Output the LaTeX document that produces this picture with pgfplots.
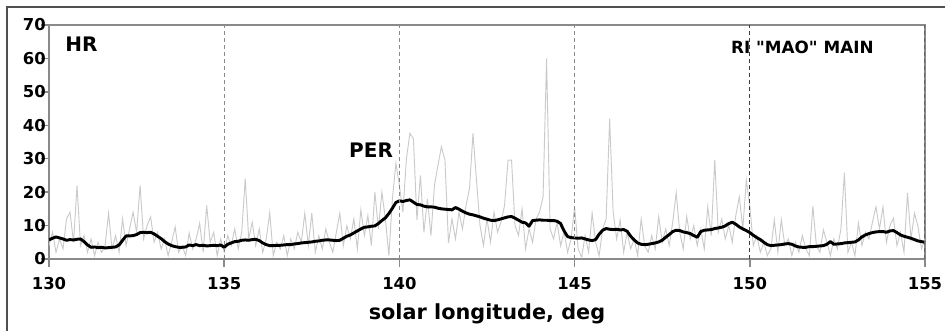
\documentclass[border=0pt]{standalone}
\usepackage{pgfplots}
\pgfplotsset{compat=1.18}
\usepackage{pgfplotstable}
\usepackage{fontspec}
\setmainfont{DejaVu Sans}
\newfontfamily\qfont{DejaVu Sans}
\definecolor{axisgray}{HTML}{8A8A8A}
\definecolor{noisegray}{HTML}{CACACA}
\definecolor{framegray}{HTML}{505050}

\pgfplotstableread{
x y
130.0 4
130.1 8
130.2 2
130.3 6
130.4 3
130.5 12
130.6 14
130.7 5
130.8 22
130.9 4
131.0 7
131.1 2
131.2 6
131.3 1
131.4 5
131.5 2
131.6 4
131.7 13.7
131.8 3
131.9 7
132.0 2
132.1 12
132.2 4
132.3 9
132.4 14
132.5 8
132.6 22
132.7 6
132.8 10
132.9 12.6
133.0 5
133.1 8
133.2 3
133.3 6
133.4 1
133.5 5
133.6 9.6
133.7 2
133.8 4
133.9 1
134.0 7.8
134.1 3
134.2 6
134.3 10.7
134.4 2
134.5 16
134.6 5
134.7 8
134.8 1
134.9 6
135.0 2
135.1 7
135.2 4
135.3 9
135.4 3
135.5 8
135.6 24
135.7 6
135.8 11
135.9 4
136.0 9
136.1 2
136.2 6
136.3 13.9
136.4 1
136.5 5
136.6 3
136.7 7
136.8 1
136.9 6
137.0 3
137.1 8
137.2 5
137.3 13.7
137.4 4
137.5 13.7
137.6 2
137.7 7
137.8 3
137.9 9
138.0 5
138.1 2
138.2 8
138.3 13.7
138.4 4
138.5 10
138.6 6
138.7 12
138.8 3
138.9 14.7
139.0 7
139.1 13
139.2 4
139.3 20
139.4 9
139.5 20
139.6 12
139.7 1
139.8 18
139.9 28.6
140.0 22
140.1 14
140.2 30
140.3 37.6
140.4 36
140.5 11.7
140.6 25
140.7 8
140.8 18
140.9 7
141.0 22
141.1 28
141.2 33.6
141.3 29.6
141.4 4.8
141.5 12
141.6 6
141.7 14
141.8 9
141.9 16
142.0 21
142.1 37.6
142.2 23.6
142.3 10
142.4 4
142.5 12
142.6 5
142.7 14
142.8 8
142.9 11
143.0 16
143.1 29.6
143.2 29.6
143.3 10
143.4 7
143.5 15
143.6 3
143.7 9
143.8 5
143.9 12
144.0 14
144.1 18.6
144.2 60
144.3 9
144.4 6
144.5 11
144.6 4
144.7 8
144.8 2
144.9 6
145.0 15.6
145.1 3
145.2 0.5
145.3 7
145.4 2
145.5 13.7
145.6 5
145.7 1
145.8 9
145.9 12
146.0 42
146.1 14
146.2 6
146.3 11.7
146.4 2
146.5 8
146.6 3
146.7 6
146.8 1
146.9 12
147.0 4
147.1 2
147.2 7
147.3 3
147.4 12.7
147.5 5
147.6 9
147.7 4
147.8 11
147.9 19.8
148.0 8
148.1 3
148.2 12.7
148.3 6
148.4 10
148.5 4
148.6 9
148.7 3
148.8 15.6
148.9 7
149.0 29.6
149.1 8
149.2 12
149.3 6
149.4 10
149.5 5
149.6 13
149.7 18.6
149.8 9
149.9 23.6
150.0 16
150.1 4
150.2 7
150.3 2
150.4 5
150.5 1
150.6 3
150.7 11.7
150.8 2
150.9 11.7
151.0 4
151.1 6
151.2 1
151.3 5
151.4 2
151.5 7
151.6 3
151.7 1
151.8 15.8
151.9 4
152.0 2
152.1 8.7
152.2 5
152.3 1
152.4 6
152.5 3
152.6 9
152.7 25.8
152.8 2
152.9 5
153.0 1
153.1 10.7
153.2 4
153.3 8
153.4 6
153.5 11
153.6 15.6
153.7 9
153.8 15.6
153.9 5
154.0 10
154.1 12.2
154.2 4
154.3 8
154.4 2
154.5 19.8
154.6 6
154.7 13.7
154.8 9.7
154.9 3
155.0 6
}\noisy

\pgfplotstableread{
x y
130.0 5.7
130.1 6.2
130.2 6.6
130.3 6.3
130.4 6.0
130.5 5.6
130.6 5.8
130.7 5.7
130.8 5.9
130.9 6.0
131.0 5.2
131.1 4.2
131.2 3.5
131.3 3.6
131.4 3.4
131.5 3.5
131.6 3.3
131.7 3.4
131.8 3.5
131.9 3.6
132.0 4.2
132.1 5.6
132.2 6.9
132.3 6.9
132.4 7.0
132.5 7.3
132.6 7.9
132.7 8.0
132.8 7.9
132.9 8.0
133.0 7.5
133.1 6.8
133.2 6.1
133.3 5.2
133.4 4.5
133.5 4.0
133.6 3.7
133.7 3.5
133.8 3.5
133.9 3.6
134.0 4.2
134.1 4.0
134.2 4.3
134.3 4.0
134.4 4.1
134.5 3.9
134.6 4.0
134.7 4.1
134.8 4.0
134.9 4.2
135.0 3.5
135.1 4.4
135.2 4.8
135.3 5.2
135.4 5.3
135.5 5.6
135.6 5.7
135.7 5.6
135.8 5.8
135.9 5.9
136.0 5.5
136.1 4.8
136.2 4.3
136.3 4.0
136.4 4.0
136.5 4.1
136.6 4.1
136.7 4.2
136.8 4.3
136.9 4.3
137.0 4.5
137.1 4.6
137.2 4.8
137.3 4.9
137.4 5.0
137.5 5.1
137.6 5.3
137.7 5.4
137.8 5.6
137.9 5.7
138.0 5.7
138.1 5.6
138.2 5.5
138.3 5.6
138.4 6.2
138.5 6.8
138.6 7.2
138.7 7.8
138.8 8.4
138.9 9.0
139.0 9.5
139.1 9.6
139.2 9.8
139.3 9.9
139.4 10.6
139.5 11.5
139.6 12.3
139.7 13.6
139.8 15.2
139.9 16.9
140.0 17.4
140.1 17.2
140.2 17.5
140.3 17.7
140.4 17.0
140.5 16.3
140.6 16.2
140.7 15.8
140.8 15.6
140.9 15.6
141.0 15.5
141.1 15.2
141.2 15.0
141.3 14.9
141.4 14.8
141.5 14.7
141.6 15.4
141.7 14.9
141.8 14.3
141.9 13.8
142.0 13.4
142.1 13.2
142.2 12.9
142.3 12.6
142.4 12.2
142.5 11.9
142.6 11.6
142.7 11.5
142.8 11.7
142.9 12.0
143.0 12.3
143.1 12.6
143.2 12.7
143.3 12.2
143.4 11.6
143.5 11.0
143.6 10.8
143.7 9.8
143.8 11.5
143.9 11.6
144.0 11.7
144.1 11.6
144.2 11.6
144.3 11.5
144.4 11.5
144.5 11.3
144.6 10.6
144.7 8.4
144.8 6.7
144.9 6.4
145.0 6.3
145.1 6.2
145.2 6.3
145.3 6.0
145.4 5.7
145.5 5.5
145.6 5.8
145.7 7.4
145.8 8.6
145.9 9.1
146.0 8.9
146.1 8.8
146.2 8.9
146.3 8.7
146.4 8.8
146.5 8.3
146.6 6.8
146.7 5.7
146.8 4.8
146.9 4.4
147.0 4.3
147.1 4.4
147.2 4.6
147.3 4.8
147.4 5.1
147.5 5.6
147.6 6.5
147.7 7.3
147.8 8.2
147.9 8.6
148.0 8.5
148.1 8.1
148.2 7.9
148.3 7.6
148.4 7.0
148.5 6.5
148.6 8.2
148.7 8.6
148.8 8.7
148.9 8.8
149.0 9.1
149.1 9.3
149.2 9.5
149.3 9.9
149.4 10.6
149.5 11.0
149.6 10.4
149.7 9.6
149.8 9.0
149.9 8.5
150.0 7.9
150.1 7.1
150.2 6.4
150.3 5.8
150.4 5.0
150.5 4.3
150.6 4.0
150.7 4.1
150.8 4.2
150.9 4.3
151.0 4.5
151.1 4.6
151.2 4.4
151.3 3.9
151.4 3.6
151.5 3.5
151.6 3.5
151.7 3.7
151.8 3.7
151.9 3.8
152.0 3.9
152.1 4.0
152.2 4.4
152.3 5.2
152.4 4.4
152.5 4.5
152.6 4.6
152.7 4.8
152.8 4.9
152.9 5.0
153.0 5.1
153.1 5.7
153.2 6.6
153.3 7.2
153.4 7.6
153.5 7.9
153.6 8.1
153.7 8.2
153.8 8.2
153.9 8.0
154.0 8.4
154.1 8.5
154.2 7.9
154.3 7.2
154.4 6.8
154.5 6.5
154.6 6.2
154.7 5.8
154.8 5.4
154.9 5.2
155.0 5.0
}\smooth

\begin{document}
\begin{tikzpicture}
\useasboundingbox (0,0) rectangle (708.75pt,248.25pt);
\begin{axis}[
  at={(36.75pt,54pt)}, anchor=south west,
  width=657pt, height=175.5pt, scale only axis,
  xmin=130, xmax=155, ymin=0, ymax=70,
  xtick={130,135,140,145,150,155},
  ytick={0,10,20,30,40,50,60,70},
  xtick pos=bottom, ytick pos=left,
  tick align=outside, major tick length=6pt,
  axis line style={draw=axisgray, line width=1.1pt},
  every tick/.style={draw=axisgray, line width=1.1pt},
  /pgf/number format/assume math mode=true,
  tick label style={font=\fontsize{12.3}{14}\selectfont\bfseries},
  xticklabel style={inner sep=0pt, anchor=base, yshift=-17pt},
  yticklabel style={inner sep=0pt, anchor=east, xshift=3.75pt},
  xlabel={solar longitude, deg},
  xlabel style={font=\fontsize{15.6}{18}\selectfont\bfseries, at={(axis description cs:0.5,-0.2607)}, anchor=base, inner sep=0pt},
]
\addplot[noisegray, line width=0.7pt] table[x=x,y=y] {\noisy};
\addplot[black, line width=2.2pt, line join=round] table[x=x,y=y] {\smooth};
\draw[axisgray, dash pattern=on 3pt off 2.25pt, line width=0.9pt] (axis cs:135,0) -- (axis cs:135,70);
\draw[axisgray, dash pattern=on 3pt off 2.25pt, line width=0.9pt] (axis cs:140,0) -- (axis cs:140,70);
\draw[axisgray, dash pattern=on 3pt off 2.25pt, line width=0.9pt] (axis cs:145,0) -- (axis cs:145,70);
\node[anchor=base west, inner sep=0pt, font=\fontsize{15}{18}\selectfont\bfseries] at (axis cs:130.46,62.2) {HR};
\node[anchor=base west, inner sep=0pt, font=\fontsize{15}{18}\selectfont\bfseries] at (axis cs:138.56,30.5) {PER};
\node[anchor=base west, inner sep=0pt, font=\qfont\fontsize{12.6}{16}\selectfont\bfseries] at (axis cs:149.46,61.6) {RI "MAO" MAIN};
\draw[black!75, dash pattern=on 3pt off 2.25pt, line width=0.9pt] (axis cs:150,0) -- (axis cs:150,70);
\draw[black!60, dash pattern=on 3pt off 2.25pt, line width=0.9pt] (axis cs:155,0) -- (axis cs:155,70);
\end{axis}
\draw[framegray, line width=1.3pt] (5.25pt,-1pt) -- (5.25pt,243pt) -- (710pt,243pt);
\end{tikzpicture}
\end{document}
